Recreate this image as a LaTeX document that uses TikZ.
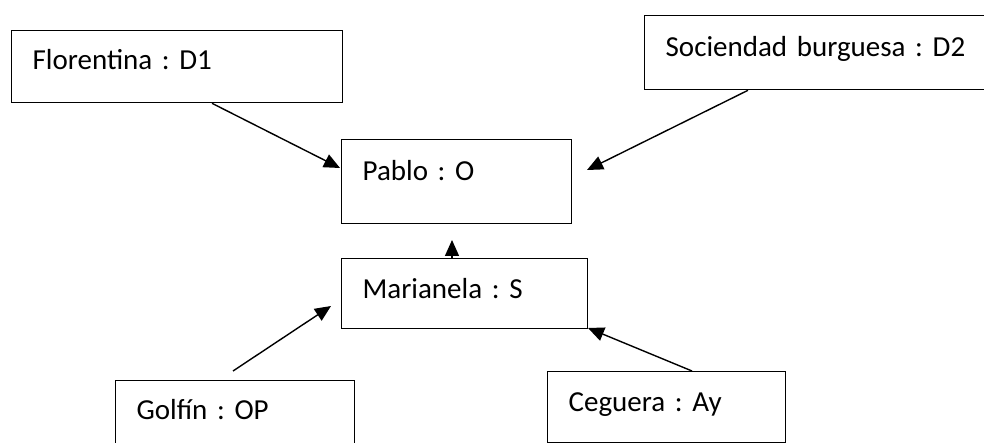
\documentclass[tikz,border=0pt]{standalone}
\usepackage{fontspec}
\setmainfont{Carlito}
\usetikzlibrary{arrows.meta}
\frenchspacing
\begin{document}
\begin{tikzpicture}[x=1pt,y=-1pt,
  box/.style={draw, line width=1.3pt, anchor=north west, inner xsep=21pt, inner ysep=0pt, align=left,
    font=\fontsize{29}{34}\selectfont\frenchspacing},
  conn/.style={line width=1.4pt, -{Triangle[length=16pt,width=14pt]}}]
\useasboundingbox (0,0) rectangle (984,443);
\clip (0,0) rectangle (984,443);
\fill[white] (0,0) rectangle (984,443);
\node[box, text width=289pt, text height=39pt, text depth=33pt] (flor) at (11,30) {Florentina : D1};
\node[box, text width=304pt, text height=41pt, text depth=33pt] (soc) at (644,15) {Sociendad burguesa : D2};
\node[box, text width=188pt, text height=41pt, text depth=43pt] (pablo) at (341,139) {Pablo : O};
\node[box, text width=204pt, text height=40pt, text depth=30pt] (mari) at (341,258) {Marianela : S};
\node[box, text width=197pt, text height=39pt, text depth=33pt] (golf) at (115,380) {Golfín : OP};
\node[box, text width=196pt, text height=40pt, text depth=31pt] (ceg) at (547,371) {Ceguera : Ay};
\coordinate (t1) at (340,168);
\coordinate (t2) at (587,170);
\coordinate (t3) at (452,240);
\coordinate (t4) at (331,306);
\coordinate (t5) at (588,328);
\draw[conn] ([xshift=201pt]flor.south west) -- (t1);
\draw[conn] ([xshift=104pt]soc.south west) -- (t2);
\draw[conn] ([xshift=111pt]mari.north west) -- (t3);
\draw[conn] ([xshift=118pt,yshift=9pt]golf.north west) -- (t4);
\draw[conn] ([xshift=145pt]ceg.north west) -- (t5);
\end{tikzpicture}
\end{document}
